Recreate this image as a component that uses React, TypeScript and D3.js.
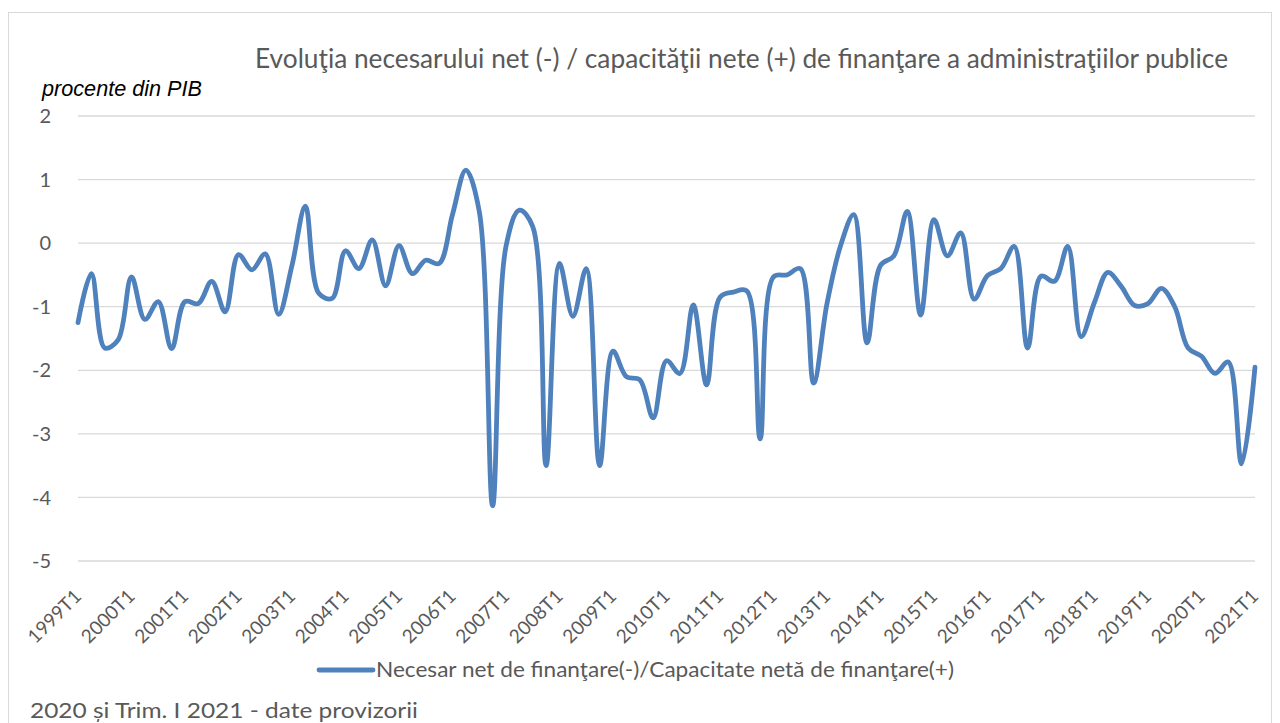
import React from "react";
import * as d3 from "d3";

// quarterly data, 1999T1 .. 2021T1
const years = [1999, 2000, 2001, 2002, 2003, 2004, 2005, 2006, 2007, 2008, 2009, 2010, 2011, 2012, 2013, 2014, 2015, 2016, 2017, 2018, 2019, 2020, 2021];
const quarters: string[] = [];
years.forEach((y) => {
  for (let q = 1; q <= 4; q++) {
    if (y < 2021 || q === 1) quarters.push(y + "T" + q);
  }
});

const values = [
  -1.25, -0.48, -1.65, -1.52, -0.53, -1.2, -0.92, -1.66,
  -0.92, -0.95, -0.6, -1.08, -0.18, -0.42, -0.17, -1.12,
  -0.35, 0.58, -0.79, -0.87, -0.12, -0.4, 0.05, -0.67,
  -0.04, -0.48, -0.27, -0.32, 0.45, 1.15, 0.5, -4.13,
  -0.05, 0.52, 0.26, -3.5, -0.32, -1.15, -0.4, -3.5,
  -1.7, -2.1, -2.15, -2.75, -1.85, -2.05, -0.97, -2.23,
  -0.85, -0.77, -0.75, -3.08, -0.53, -0.5, -0.4, -2.2,
  -0.95, -0.05, 0.45, -1.57, -0.35, -0.2, 0.5, -1.13,
  0.37, -0.2, 0.16, -0.88, -0.51, -0.4, -0.05, -1.65,
  -0.52, -0.6, -0.05, -1.47, -0.93, -0.46, -0.68, -0.98,
  -0.95, -0.71, -1.0, -1.65, -1.78, -2.05, -1.87, -3.47,
  -1.95,
];

const yTicks = [2, 1, 0, -1, -2, -3, -4, -5];
const xTickLabels = quarters.filter((q) => q.endsWith("T1"));

const title = "Evoluţia necesarului net (-) / capacităţii nete (+) de finanţare a administraţiilor publice";
const legendLabel = "Necesar net de finanţare(-)/Capacitate netă de finanţare(+)";
const footnote = "2020 și Trim. I 2021 - date provizorii";

const W = 1280;
const H = 723;
const left = 78;
const right = 1255;
const top = 116;
const bottom = 561;
const lineColor = "#4F81BD";
const textColor = "#595959";
const font = "Lato, 'Open Sans', sans-serif";

export default function App() {
  const x = d3.scalePoint<string>().domain(quarters).range([left, right]);
  const y = d3.scaleLinear().domain([-5, 2]).range([bottom, top]);

  const line = d3
    .line<number>()
    .x((d, i) => x(quarters[i]) as number)
    .y((d) => y(d))
    .curve(d3.curveCatmullRom.alpha(0.5));

  return (
    <svg width={W} height={H} style={{ position: "absolute", left: 0, top: 0 }}>
      <rect x={0} y={0} width={W} height={H} fill="#fff" />
      <rect x={8.5} y={12.5} width={1263} height={740} fill="none" stroke="#d9d9d9" />

      <text x={255} y={68} textLength={973} lengthAdjust="spacingAndGlyphs" fontFamily={font} fontSize={26} fill={textColor}>
        {title}
      </text>
      <text x={42} y={96} textLength={160} lengthAdjust="spacingAndGlyphs" fontFamily="'Liberation Sans', Arial, sans-serif" fontStyle="italic" fontSize={21.5} fill="#000">
        procente din PIB
      </text>

      {yTicks.map((t) => (
        <g key={t}>
          <line x1={left} x2={right} y1={y(t)} y2={y(t)} stroke="#d9d9d9" strokeWidth={1.3} />
          <text x={51} y={y(t)} dy="0.36em" textAnchor="end" fontFamily={font} fontSize={20} fill={textColor}>
            {t}
          </text>
        </g>
      ))}

      {xTickLabels.map((q) => {
        const px = (x(q) as number) + 4.5;
        const py = 597.5;
        return (
          <text
            key={q}
            transform={`translate(${px},${py}) rotate(-45)`}
            textAnchor="end"
            fontFamily={font}
            fontSize={19}
            fill={textColor}
          >
            {q}
          </text>
        );
      })}

      <path d={line(values) || ""} fill="none" stroke={lineColor} strokeWidth={4.8} strokeLinejoin="round" strokeLinecap="round" />

      <line x1={319} x2={373} y1={670} y2={670} stroke={lineColor} strokeWidth={4.8} strokeLinecap="round" />
      <text x={376} y={677} textLength={578} lengthAdjust="spacingAndGlyphs" fontFamily={font} fontSize={22} fill={textColor}>
        {legendLabel}
      </text>

      <text x={30} y={718} textLength={388} lengthAdjust="spacingAndGlyphs" fontFamily={font} fontSize={22} fill={textColor}>
        {footnote}
      </text>
    </svg>
  );
}
